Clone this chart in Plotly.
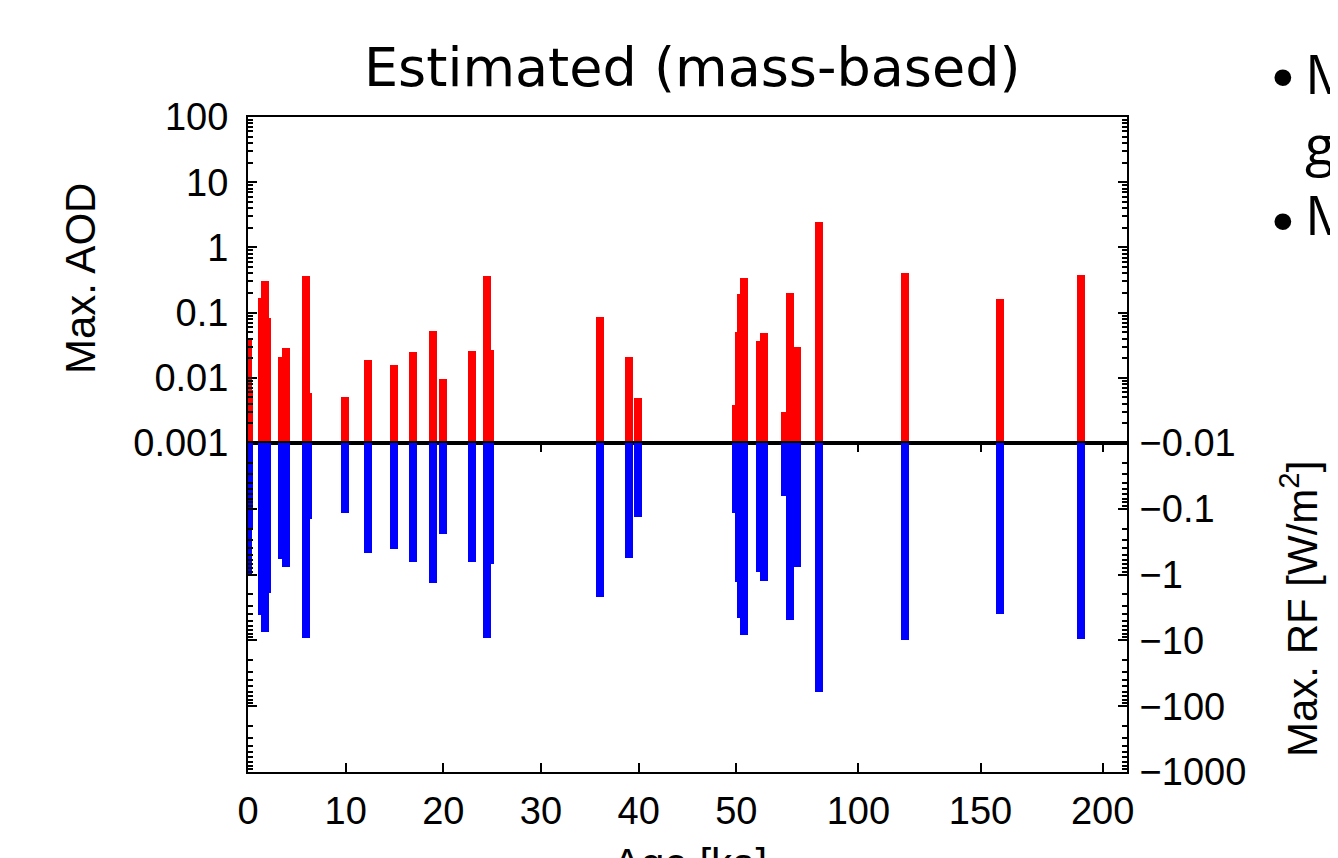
import plotly.graph_objects as go
from plotly.subplots import make_subplots

# eruption ages in ka (axis is broken at 50 ka, compressed 4x beyond)
ages = [0.0, 0.15, 1.43, 1.77, 1.98, 3.45, 3.93, 5.95, 6.1, 9.94,
        12.33, 14.96, 16.94, 18.9, 19.93, 22.93, 24.43, 24.8, 35.99, 38.98,
        39.98, 50.0, 51.0, 52.0, 53.2, 59.8, 61.2, 70.1, 72.1, 75.0,
        84.0, 119.0, 158.1, 191.3]

# maximum aerosol optical depth
aod_max = [0.038, 0.0066, 0.166, 0.31, 0.082, 0.021, 0.029, 0.368, 0.0058, 0.005,
           0.0188, 0.0155, 0.0246, 0.052, 0.0096, 0.026, 0.368, 0.0267, 0.085, 0.021,
           0.0049, 0.0038, 0.05, 0.19, 0.336, 0.0367, 0.049, 0.003, 0.197, 0.0294,
           2.48, 0.40, 0.162, 0.38]

# maximum radiative forcing, W/m2
rf_max = [-1.0, -0.21, -4.1, -7.5, -1.9, -0.57, -0.76, -9.1, -0.145, -0.117,
          -0.47, -0.41, -0.64, -1.33, -0.24, -0.65, -9.1, -0.69, -2.17, -0.55,
          -0.135, -0.117, -1.28, -4.6, -8.3, -0.92, -1.25, -0.064, -4.9, -0.76,
          -60, -9.9, -4.0, -9.6]

tick_ages = [0, 10, 20, 30, 40, 50, 100, 150, 200]
aod_ticks = [0.001, 0.01, 0.1, 1, 10, 100]
aod_labels = ['0.001', '0.01', '0.1', '1', '10', '100']
rf_ticks = [0.01, 0.1, 1, 10, 100, 1000]
rf_labels = ['\u22120.01', '\u22120.1', '\u22121', '\u221210', '\u2212100', '\u22121000']

BREAK = 50
SQUEEZE = 4


def age_axis(a):
    # broken axis: linear up to 50 ka, then 4x compressed
    return a if a <= BREAK else BREAK + (a - BREAK) / SQUEEZE


xpos = [age_axis(a) for a in ages]
xticks = [age_axis(a) for a in tick_ages]

# page body has an 8px margin, so shift everything back by that much
OFF = 8
W, H = 1338, 858
L, T = 248 - OFF, 117 - OFF
PW, PH = 879, 655
R, B = W - L - PW, H - T - PH


def px(x):
    return (x - OFF - L) / PW


def py(y):
    return (T + PH - (y - OFF)) / PH


fig = make_subplots(rows=2, cols=1, shared_xaxes=True, vertical_spacing=0,
                    row_heights=[326, 329])

fig.add_trace(go.Bar(x=xpos, y=aod_max, width=0.82, marker_color='#ff0000',
                     marker_line_width=0, showlegend=False), row=1, col=1)
fig.add_trace(go.Bar(x=xpos, y=[-v for v in rf_max], width=0.82, marker_color='#0000ff',
                     marker_line_width=0, showlegend=False), row=2, col=1)

minor_aod = [m * 10.0 ** k for k in range(-3, 2) for m in range(2, 10)]
minor_rf = [m * 10.0 ** k for k in range(-2, 3) for m in range(2, 10)]

tickfont = dict(family='Liberation Sans', size=38, color='black')

fig.update_xaxes(range=[0, 90], showline=True, linecolor='black', linewidth=2,
                 showgrid=False, zeroline=False)
fig.update_xaxes(row=1, col=1, mirror=True, ticks='', showticklabels=False)
# ticks of the lower panel sit behind the blue bars
fig.update_xaxes(row=2, col=1, mirror='ticks', ticks='inside', ticklen=9, tickwidth=2,
                 tickcolor='black', tickmode='array', tickvals=xticks, ticktext=[str(t) for t in tick_ages],
                 tickfont=tickfont, ticklabelstandoff=4, layer='below traces')

fig.update_yaxes(row=1, col=1, type='log', range=[-3, 2], tickmode='array',
                 tickvals=aod_ticks, ticktext=aod_labels, ticks='inside', ticklen=9, tickwidth=2,
                 tickcolor='black', mirror='ticks', showline=True, linecolor='black', linewidth=2,
                 showgrid=False, zeroline=False, tickfont=tickfont, ticklabelstandoff=10,
                 minor=dict(tickmode='array', tickvals=minor_aod, ticks='inside', ticklen=5,
                            tickwidth=1.5, tickcolor='black', showgrid=False))
fig.update_yaxes(row=2, col=1, type='log', range=[3, -2], side='right', tickmode='array',
                 tickvals=rf_ticks, ticktext=rf_labels, ticks='inside', ticklen=9, tickwidth=2,
                 tickcolor='black', mirror='ticks', showline=True, linecolor='black', linewidth=2,
                 showgrid=False, zeroline=False, tickfont=tickfont, ticklabelstandoff=3,
                 minor=dict(tickmode='array', tickvals=minor_rf, ticks='inside', ticklen=5,
                            tickwidth=1.5, tickcolor='black', showgrid=False))

notes = [
    dict(text='Estimated (mass-based)', x=px(692), y=py(67), size=54, fam='DejaVu Sans', angle=0, xa='center'),
    dict(text='Max. AOD', x=px(80), y=py(279), size=42, fam='Liberation Sans', angle=-90, xa='center'),
    dict(text='Max. RF [W/m<sup>2</sup>]', x=px(1299), y=py(609), size=42, fam='Liberation Sans', angle=-90, xa='center'),
    dict(text='Age [ka]', x=px(690), y=py(863), size=42, fam='Liberation Sans', angle=0, xa='center'),
    dict(text='\u2022', x=px(1283), y=py(76), size=62, fam='Liberation Sans', angle=0, xa='center'),
    dict(text='M', x=px(1303), y=py(72), size=55, fam='Open Sans', angle=0, xa='left'),
    dict(text='g', x=px(1303), y=py(143), size=55, fam='Open Sans', angle=0, xa='left'),
    dict(text='\u2022', x=px(1283), y=py(220), size=62, fam='Liberation Sans', angle=0, xa='center'),
    dict(text='M', x=px(1303), y=py(213), size=55, fam='Open Sans', angle=0, xa='left'),
]
for n in notes:
    fig.add_annotation(text=n['text'], x=n['x'], y=n['y'], xref='paper', yref='paper',
                       showarrow=False, textangle=n['angle'], xanchor=n['xa'], yanchor='middle',
                       font=dict(family=n['fam'], size=n['size'], color='black'))

fig.update_layout(
    width=W, height=H,
    margin=dict(l=L, r=R, t=T, b=B),
    plot_bgcolor='white', paper_bgcolor='white',
    barmode='overlay', bargap=0,
    font=dict(family='Liberation Sans', color='black'),
)

fig.write_html('out.html')
